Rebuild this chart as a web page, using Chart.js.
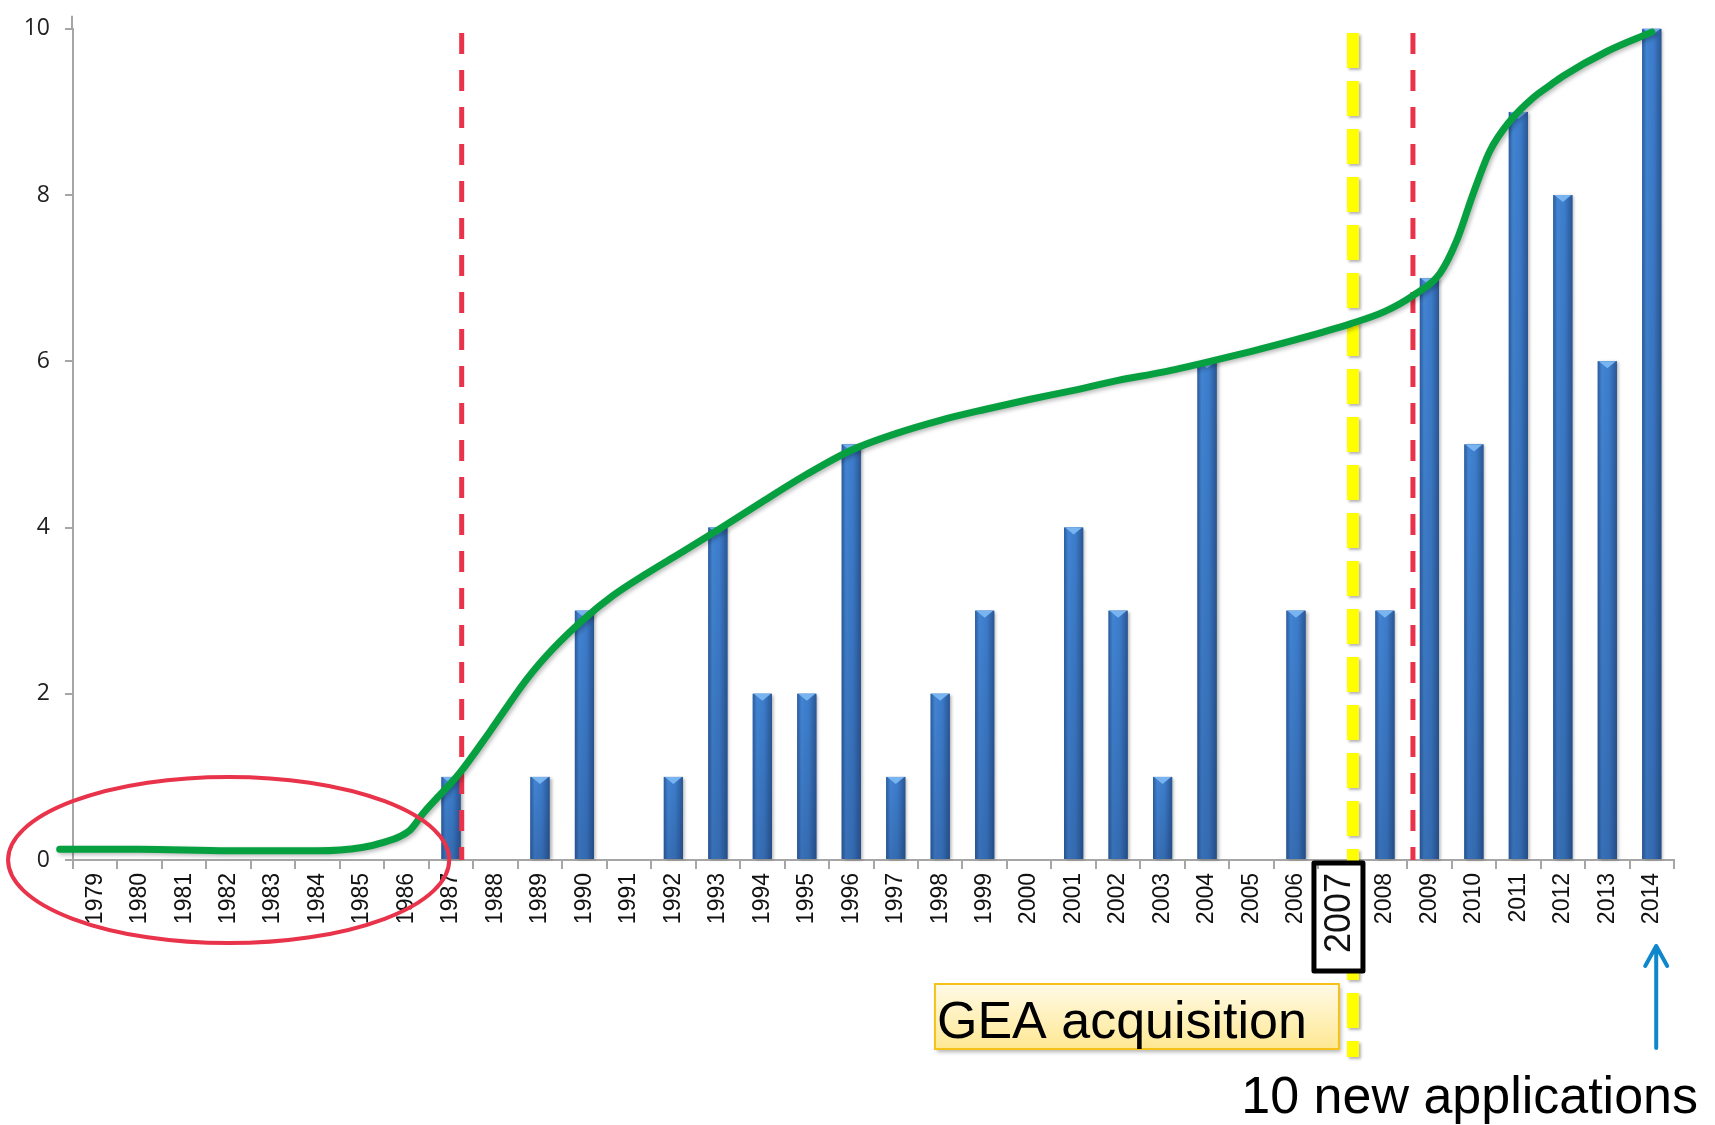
<!DOCTYPE html>
<html>
<head>
<meta charset="utf-8">
<title>New applications per year</title>
<script src="https://cdn.jsdelivr.net/npm/chart.js@4.4.1/dist/chart.umd.min.js"></script>
<style>
  html, body { margin: 0; padding: 0; background: #ffffff; }
  #wrap { width: 1715px; height: 1125px; position: relative; }
</style>
</head>
<body>
<div id="wrap"><canvas id="chart" width="1715" height="1125"></canvas></div>
<script>
// Years on the category axis
const years = ['1979','1980','1981','1982','1983','1984','1985','1986','1987','1988',
               '1989','1990','1991','1992','1993','1994','1995','1996','1997','1998',
               '1999','2000','2001','2002','2003','2004','2005','2006','2007','2008',
               '2009','2010','2011','2012','2013','2014'];

// New applications per year (bars)
const applications = [0,0,0,0,0,0,0,0,1,0,
                      1,3,0,1,4,2,2,5,1,2,
                      3,0,4,3,1,6,0,3,0,3,
                      7,5,9,8,6,10];

// Hand-drawn growth curve (year position, level)
const trendYears  = [1978.2, 1980, 1982, 1984, 1985, 1985.4, 1986.08, 1986.37, 1987.2, 1987.88,
                     1988.71, 1989.29, 1989.97, 1990.64, 1991.41, 1992.15, 1993, 1994, 1995, 1996,
                     1997, 1998, 1999, 2000, 2001, 2002, 2003, 2004, 2005, 2006,
                     2007.22, 2008, 2008.63, 2009.24, 2009.62, 2009.98, 2010.36, 2010.81, 2011.33, 2011.71,
                     2012, 2013, 2014];
const trendValues = [0.13, 0.13, 0.11, 0.11, 0.15, 0.20, 0.36, 0.56, 1.05, 1.55,
                     2.18, 2.54, 2.89, 3.18, 3.45, 3.69, 3.97, 4.31, 4.64, 4.93,
                     5.13, 5.29, 5.42, 5.54, 5.65, 5.77, 5.87, 5.99, 6.12, 6.26,
                     6.45, 6.60, 6.79, 7.06, 7.46, 8.01, 8.53, 8.89, 9.17, 9.32,
                     9.43, 9.73, 9.96];

// Y axis tick values
const yTicks = [0, 2, 4, 6, 8, 10];

// Event markers (positions in years)
const phaseBreaks = [1987.24, 2008.63];
const acquisitionYear = 2007.28;
const highlightLabel = '2007';
const acquisitionText = 'GEA acquisition';
const calloutText = '10 new applications';
const calloutYear = 2014.1;

const SANS = "'Liberation Sans', Arial, sans-serif";

const trendPoints = trendYears.map((yr, i) => ({ x: yr, y: trendValues[i] }));

function highlightBoxRect(chart) {
  const xs = chart.scales.x;
  const idx = years.indexOf(highlightLabel);
  const ctx = chart.ctx;
  ctx.save();
  ctx.font = '36px ' + SANS;
  const tw = ctx.measureText(highlightLabel).width;
  ctx.restore();
  const cx = xs.getPixelForTick(idx);
  const w = 49, h = tw + 28;
  return { x: cx - w / 2 - 2, y: xs.top + 3, w: w, h: h };
}

const decor = {
  id: 'decor',
  beforeDatasetDraw(chart, args) {
    if (args.index === 1) {
      const ctx = chart.ctx;
      ctx.save();
      ctx.shadowColor = 'rgba(0,0,0,0.28)';
      ctx.shadowBlur = 4;
      ctx.shadowOffsetX = 2;
      ctx.shadowOffsetY = 2;
    }
  },
  afterDatasetDraw(chart, args) {
    const ctx = chart.ctx;
    if (args.index === 1) { ctx.restore(); return; }
    if (args.index !== 0) return;
    const xt = chart.scales.xt, ys = chart.scales.y;

    // shaded, bevelled bars
    args.meta.data.forEach((bar, i) => {
      if (!applications[i]) return;
      const p = bar.getProps(['x', 'y', 'base', 'width'], true);
      const l = p.x - p.width / 2, r = p.x + p.width / 2, hgt = p.base - p.y;
      ctx.save();
      ctx.shadowColor = 'rgba(0,0,0,0.3)';
      ctx.shadowBlur = 3;
      ctx.shadowOffsetX = 2;
      ctx.shadowOffsetY = 1;
      const g = ctx.createLinearGradient(l, 0, r, 0);
      g.addColorStop(0, '#2c5c9c');
      g.addColorStop(0.22, '#4284d3');
      g.addColorStop(0.6, '#3c7cca');
      g.addColorStop(1, '#2a5694');
      ctx.fillStyle = g;
      ctx.fillRect(l, p.y, p.width, hgt);
      ctx.shadowColor = 'transparent';
      const v = ctx.createLinearGradient(0, p.y, 0, p.base);
      v.addColorStop(0, 'rgba(20,40,80,0)');
      v.addColorStop(1, 'rgba(20,40,80,0.22)');
      ctx.fillStyle = v;
      ctx.fillRect(l, p.y, p.width, hgt);
      const th = Math.min(7, hgt / 2);
      ctx.fillStyle = '#78b4f0';
      ctx.beginPath();
      ctx.moveTo(l + 1, p.y);
      ctx.lineTo(r - 1, p.y);
      ctx.lineTo(p.x, p.y + th);
      ctx.closePath();
      ctx.fill();
      ctx.restore();
    });

    // red dashed phase breaks
    const top = ys.getPixelForValue(9.95);
    ctx.save();
    ctx.strokeStyle = '#e8334a';
    ctx.lineWidth = 5;
    ctx.setLineDash([21, 16]);
    phaseBreaks.forEach(yr => {
      const px = xt.getPixelForValue(yr);
      ctx.beginPath();
      ctx.moveTo(px, top);
      ctx.lineTo(px, ys.getPixelForValue(0));
      ctx.stroke();
    });
    ctx.restore();

    // yellow dashed acquisition line, kept out of the highlighted label box
    const b = highlightBoxRect(chart);
    ctx.save();
    ctx.beginPath();
    ctx.rect(0, 0, chart.width, chart.height);
    ctx.rect(b.x, b.y, b.w, b.h);
    ctx.clip('evenodd');
    ctx.shadowColor = 'rgba(0,0,0,0.3)';
    ctx.shadowBlur = 3;
    ctx.shadowOffsetX = 2;
    ctx.shadowOffsetY = 2;
    ctx.strokeStyle = '#ffff00';
    ctx.lineWidth = 12;
    ctx.setLineDash([35, 13]);
    const ax = xt.getPixelForValue(acquisitionYear);
    ctx.beginPath();
    ctx.moveTo(ax, top);
    ctx.lineTo(ax, ys.getPixelForValue(-2.37));
    ctx.stroke();
    ctx.restore();
  },
  afterDraw(chart) {
    const ctx = chart.ctx;
    const xt = chart.scales.xt, ys = chart.scales.y, xs = chart.scales.x;

    // value axis line runs a little past the top tick
    ctx.save();
    ctx.strokeStyle = '#a6a6a6';
    ctx.lineWidth = 2;
    ctx.beginPath();
    ctx.moveTo(ys.right - 1, ys.top + 1);
    ctx.lineTo(ys.right - 1, ys.top - 13);
    ctx.stroke();
    ctx.restore();

    // red ellipse around the early years
    const cx = xt.getPixelForValue(1982);
    const cy = ys.getPixelForValue(0);
    const rx = xt.getPixelForValue(1982 + 4.96) - cx;
    const ry = ys.getPixelForValue(0) - ys.getPixelForValue(1.0);
    ctx.save();
    ctx.strokeStyle = '#e8334a';
    ctx.lineWidth = 4;
    ctx.beginPath();
    ctx.ellipse(cx, cy, rx, ry, 0, 0, Math.PI * 2);
    ctx.stroke();
    ctx.restore();

    // black frame around the highlighted year label
    const b = highlightBoxRect(chart);
    ctx.save();
    ctx.strokeStyle = '#000';
    ctx.lineWidth = 5;
    ctx.lineJoin = 'round';
    ctx.strokeRect(b.x, b.y, b.w, b.h);
    ctx.restore();

    // acquisition label box
    const ax = xt.getPixelForValue(acquisitionYear);
    ctx.save();
    ctx.font = '52px ' + SANS;
    const tw = ctx.measureText(acquisitionText).width;
    const bw = tw + 34, bh = 65;
    const bx = ax - 14 - bw, by = xs.top + 124;
    ctx.shadowColor = 'rgba(0,0,0,0.3)';
    ctx.shadowBlur = 4;
    ctx.shadowOffsetX = 2;
    ctx.shadowOffsetY = 3;
    const g = ctx.createLinearGradient(0, by, 0, by + bh);
    g.addColorStop(0, '#fffae6');
    g.addColorStop(1, '#ffe893');
    ctx.fillStyle = g;
    ctx.fillRect(bx, by, bw, bh);
    ctx.shadowColor = 'transparent';
    ctx.strokeStyle = '#f6c21a';
    ctx.lineWidth = 2;
    ctx.strokeRect(bx, by, bw, bh);
    ctx.fillStyle = '#000';
    ctx.textBaseline = 'alphabetic';
    ctx.textAlign = 'left';
    ctx.fillText(acquisitionText, bx + 2, by + 54);
    ctx.restore();

    // arrow pointing at the last year
    const px = xt.getPixelForValue(calloutYear);
    const tip = xs.top + 86, tail = xs.top + 188;
    ctx.save();
    ctx.strokeStyle = '#0f87cc';
    ctx.lineWidth = 4;
    ctx.lineCap = 'round';
    ctx.lineJoin = 'round';
    ctx.beginPath();
    ctx.moveTo(px, tail);
    ctx.lineTo(px, tip);
    ctx.moveTo(px - 11, tip + 20);
    ctx.lineTo(px, tip);
    ctx.lineTo(px + 11, tip + 20);
    ctx.stroke();
    ctx.restore();

    // callout text
    ctx.save();
    ctx.font = '52px ' + SANS;
    ctx.fillStyle = '#000';
    ctx.textAlign = 'right';
    ctx.textBaseline = 'alphabetic';
    ctx.fillText(calloutText, chart.width - 17, xs.top + 253);
    ctx.restore();
  }
};

new Chart(document.getElementById('chart'), {
  type: 'bar',
  data: {
    labels: years,
    datasets: [
      {
        type: 'bar',
        data: applications,
        backgroundColor: '#3c7cca',
        barPercentage: 0.43,
        categoryPercentage: 1,
        grouped: false,
        xAxisID: 'x',
        yAxisID: 'y',
        order: 2
      },
      {
        type: 'line',
        data: trendPoints,
        xAxisID: 'xt',
        yAxisID: 'y',
        borderColor: '#06a040',
        borderWidth: 7,
        borderCapStyle: 'round',
        pointRadius: 0,
        fill: false,
        cubicInterpolationMode: 'monotone',
        clip: false,
        order: 1
      }
    ]
  },
  options: {
    responsive: false,
    animation: false,
    devicePixelRatio: 1,
    layout: { padding: { top: 20, right: 41, left: 0, bottom: 0 } },
    plugins: { legend: { display: false }, tooltip: { enabled: false } },
    scales: {
      x: {
        type: 'category',
        offset: true,
        grid: { drawOnChartArea: false, drawTicks: true, tickLength: 9, color: '#a6a6a6', lineWidth: 2, offset: true },
        border: { color: '#a6a6a6', width: 2 },
        ticks: {
          autoSkip: false,
          minRotation: 90,
          maxRotation: 90,
          padding: 4,
          color: '#111',
          font: (c) => ({ family: SANS, size: (c.tick && c.tick.label === highlightLabel) ? 36 : 23 })
        },
        afterFit: (s) => { s.height = 265; }
      },
      xt: {
        type: 'linear',
        display: false,
        offset: false,
        grid: { offset: false },
        min: 1978.5,
        max: 2014.5
      },
      y: {
        min: yTicks[0],
        max: yTicks[yTicks.length - 1],
        afterBuildTicks: (s) => { s.ticks = yTicks.map(v => ({ value: v })); },
        ticks: { padding: 15, color: '#222', font: { family: "'Open Sans', sans-serif", size: 23 } },
        grid: { drawOnChartArea: false, tickLength: 8, color: '#a6a6a6', lineWidth: 2 },
        border: { color: '#a6a6a6', width: 2 },
        afterFit: (s) => { s.width = 73; }
      }
    }
  },
  plugins: [decor]
});
</script>
</body>
</html>
